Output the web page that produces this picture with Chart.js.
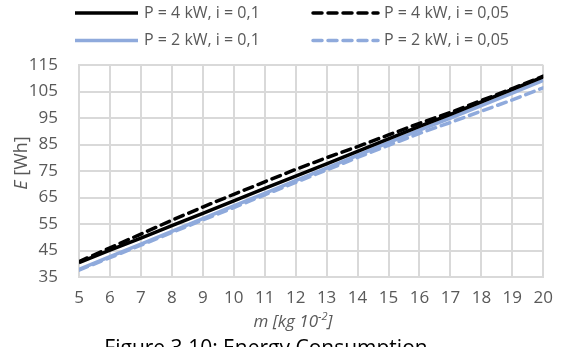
<!DOCTYPE html>
<html>
<head>
<meta charset="utf-8">
<script src="https://cdn.jsdelivr.net/npm/chart.js@4.4.0/dist/chart.umd.min.js"></script>
<style>
  html, body { margin: 0; padding: 0; background: #fff; }
  #wrap { width: 564px; height: 347px; position: relative; }
</style>
</head>
<body>
<div id="wrap"><canvas id="energyChart" width="564" height="347"></canvas></div>
<script>
// mass m [kg 10^-2]
const massValues = [5, 6, 7, 8, 9, 10, 11, 12, 13, 14, 15, 16, 17, 18, 19, 20];

// energy E [Wh]
const p4i010 = [40.4, 45.1, 49.7, 54.4, 59.0, 63.7, 68.4, 73.1, 77.7, 82.4, 87.1, 91.8, 96.4, 101.1, 105.8, 110.5];
const p4i005 = [40.8, 46.0, 51.2, 56.4, 61.4, 66.2, 70.9, 75.6, 80.0, 84.2, 88.6, 93.0, 97.1, 101.6, 106.1, 110.8];
const p2i010 = [37.9, 42.7, 47.4, 52.2, 57.0, 61.8, 66.6, 71.4, 76.1, 80.9, 85.7, 90.4, 95.0, 99.7, 104.4, 109.2];
const p2i005 = [37.6, 42.3, 47.0, 51.8, 56.5, 61.2, 66.0, 70.7, 75.4, 80.1, 84.7, 89.2, 93.3, 97.6, 101.8, 106.4];

const seriesLabels = ['P = 4 kW, i = 0,1', 'P = 4 kW, i = 0,05', 'P = 2 kW, i = 0,1', 'P = 2 kW, i = 0,05'];

const yTicks = [35, 45, 55, 65, 75, 85, 95, 105, 115];

const BLACK = '#000000';
const BLUE = '#8FAADC';
const GRID = '#d9d9d9';
const TEXT = '#595959';
const FONT = '"Open Sans", "Liberation Sans", sans-serif';

function toPoints(ys) {
  return massValues.map((m, i) => ({ x: m, y: ys[i] }));
}

function lineSet(label, ys, color, dashed) {
  return {
    label: label,
    data: toPoints(ys),
    borderColor: color,
    backgroundColor: color,
    borderWidth: 3.5,
    borderDash: dashed ? [9, 6] : [],
    borderCapStyle: dashed ? 'round' : 'butt',
    pointRadius: 0,
    fill: false,
    tension: 0
  };
}

// legend + axis titles drawn by hand, Excel style
const decorations = {
  id: 'decorations',
  afterDraw(chart) {
    const ctx = chart.ctx;
    const sets = chart.data.datasets;
    const slots = [
      { x0: 75, x1: 138, tx: 144, y: 13 },
      { x0: 313, x1: 378, tx: 384, y: 13 },
      { x0: 75, x1: 138, tx: 144, y: 40.5 },
      { x0: 313, x1: 378, tx: 384, y: 40.5 }
    ];
    ctx.save();
    sets.forEach((ds, i) => {
      const s = slots[i];
      ctx.beginPath();
      ctx.strokeStyle = ds.borderColor;
      ctx.lineWidth = ds.borderWidth;
      ctx.lineCap = ds.borderCapStyle;
      ctx.setLineDash(ds.borderDash);
      ctx.moveTo(s.x0, s.y);
      ctx.lineTo(s.x1, s.y);
      ctx.stroke();
      ctx.setLineDash([]);
      ctx.fillStyle = TEXT;
      ctx.font = '16px ' + FONT;
      ctx.textAlign = 'left';
      ctx.textBaseline = 'middle';
      ctx.fillText(ds.label, s.tx, s.y);
    });

    // y title: E [Wh]
    const area = chart.chartArea;
    ctx.translate(22, (area.top + area.bottom) / 2 - 8);
    ctx.rotate(-Math.PI / 2);
    ctx.fillStyle = TEXT;
    ctx.textBaseline = 'middle';
    ctx.font = 'italic 18px ' + FONT;
    const eW = ctx.measureText('E').width;
    ctx.font = '18px ' + FONT;
    const restW = ctx.measureText(' [Wh]').width;
    let x = -(eW + restW) / 2;
    ctx.textAlign = 'left';
    ctx.font = 'italic 18px ' + FONT;
    ctx.fillText('E', x, 0);
    ctx.font = '18px ' + FONT;
    ctx.fillText(' [Wh]', x + eW, 0);
    ctx.setTransform(1, 0, 0, 1, 0, 0);

    // x title: m [kg 10^-2]
    ctx.textBaseline = 'alphabetic';
    ctx.font = 'italic 17px ' + FONT;
    const a = 'm [kg 10';
    const b = '-2';
    const c = ']';
    const aW = ctx.measureText(a).width;
    const cW = ctx.measureText(c).width;
    ctx.font = 'italic 11px ' + FONT;
    const bW = ctx.measureText(b).width;
    let xx = 293 - (aW + bW + cW) / 2;
    ctx.font = 'italic 17px ' + FONT;
    ctx.fillText(a, xx, 327);
    ctx.font = 'italic 11px ' + FONT;
    ctx.fillText(b, xx + aW, 320);
    ctx.font = 'italic 17px ' + FONT;
    ctx.fillText(c, xx + aW + bW, 327);

    // caption, cut off by the bottom edge
    ctx.fillStyle = '#000000';
    ctx.font = '21px ' + FONT;
    ctx.textAlign = 'center';
    ctx.textBaseline = 'top';
    ctx.fillText('Figure 3.10: Energy Consumption', 266, 339);
    ctx.restore();
  }
};

new Chart(document.getElementById('energyChart'), {
  type: 'line',
  data: {
    datasets: [
      lineSet(seriesLabels[0], p4i010, BLACK, false),
      lineSet(seriesLabels[1], p4i005, BLACK, true),
      lineSet(seriesLabels[2], p2i010, BLUE, false),
      lineSet(seriesLabels[3], p2i005, BLUE, true)
    ]
  },
  options: {
    responsive: false,
    animation: false,
    layout: { padding: { top: 65, right: 17, left: 0, bottom: 0 } },
    plugins: {
      legend: { display: false },
      tooltip: { enabled: false }
    },
    scales: {
      x: {
        type: 'linear',
        min: 5,
        max: 20,
        afterBuildTicks: (scale) => { scale.ticks = massValues.map(v => ({ value: v })); },
        grid: { color: GRID, lineWidth: 2, drawTicks: false },
        border: { color: GRID, width: 2 },
        ticks: { color: TEXT, font: { family: FONT, size: 17 }, padding: 11, maxRotation: 0, autoSkip: false },
        afterFit: (scale) => { scale.height = 70; }
      },
      y: {
        min: 35,
        max: 115,
        afterBuildTicks: (scale) => { scale.ticks = yTicks.map(v => ({ value: v })); },
        grid: { color: GRID, lineWidth: 2, drawTicks: false },
        border: { color: GRID, width: 2 },
        ticks: { color: TEXT, font: { family: FONT, size: 17 }, padding: 21, autoSkip: false },
        afterFit: (scale) => { scale.width = 79; }
      }
    }
  },
  plugins: [decorations]
});
</script>
</body>
</html>
